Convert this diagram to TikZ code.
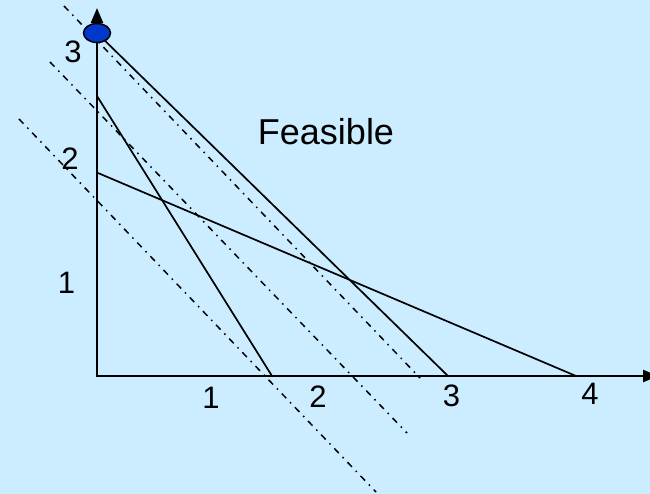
\documentclass[tikz,border=0pt]{standalone}
\usepackage{fontspec}
\setmainfont{Liberation Sans}
\usetikzlibrary{arrows.meta,shapes.geometric}
\definecolor{bgblue}{RGB}{204,236,255}
\definecolor{dotblue}{RGB}{0,56,204}
\tikzset{
  axis/.style={line width=2.4pt,-{Triangle[length=15pt,width=12pt]}},
  constraint/.style={line width=1.7pt},
  objective/.style={line width=1.5pt,dash pattern=on 6.5pt off 5.5pt on 1.5pt off 5.5pt},
  ticklabel/.style={font=\fontsize{31}{31}\selectfont,anchor=base,inner sep=0pt},
  biglabel/.style={font=\fontsize{36}{36}\selectfont,anchor=base,inner sep=0pt},
}
\begin{document}
\begin{tikzpicture}[x=1pt,y=-1pt]
\fill[bgblue] (0,0) rectangle (650,494);
\useasboundingbox (0,0) rectangle (650,494);
% coordinates
\coordinate (O) at (97,376);
\coordinate (ytip) at (97,8);
\coordinate (xtip) at (658,376);
\coordinate (l1a) at (97,96);
\coordinate (l1b) at (272,376);
\coordinate (l2a) at (98,173);
\coordinate (l2b) at (576,376);
\coordinate (l3a) at (97,33);
\coordinate (l3b) at (448,376);
\coordinate (oAa) at (64,6);
\coordinate (oAb) at (420,378);
\coordinate (oBa) at (50,62);
\coordinate (oBb) at (407,433);
\coordinate (oCa) at (19,119);
\coordinate (oCb) at (376,492);
% objective lines
\draw[objective] (oAa) -- (oAb);
\draw[objective] (oBa) -- (oBb);
\draw[objective] (oCa) -- (oCb);
% constraints
\draw[constraint] (l1a) -- (l1b);
\draw[constraint] (l2a) -- (l2b);
\draw[constraint] (l3a) -- (l3b);
% axes
\draw[axis] ([xshift=-1.2pt]O) -- (xtip);
\draw[axis] ([yshift=1.2pt]O) -- (ytip);
% optimum
\node[draw=black,line width=1.5pt,fill=dotblue,ellipse,minimum width=27pt,minimum height=19pt,inner sep=0pt] (opt) at (97,33) {};
% labels
\node[biglabel] (feas) at (326,145) {Feasible};
\node[ticklabel] (y1) at (66.5,293.5) {1};
\node[ticklabel] (y2) at (70,170) {2};
\node[ticklabel] (y3) at (73,63) {3};
\node[ticklabel] (x1) at (211,408) {1};
\node[ticklabel] (x2) at (318,407) {2};
\node[ticklabel] (x3) at (451.5,406) {3};
\node[ticklabel] (x4) at (590,404) {4};
\end{tikzpicture}
\end{document}
